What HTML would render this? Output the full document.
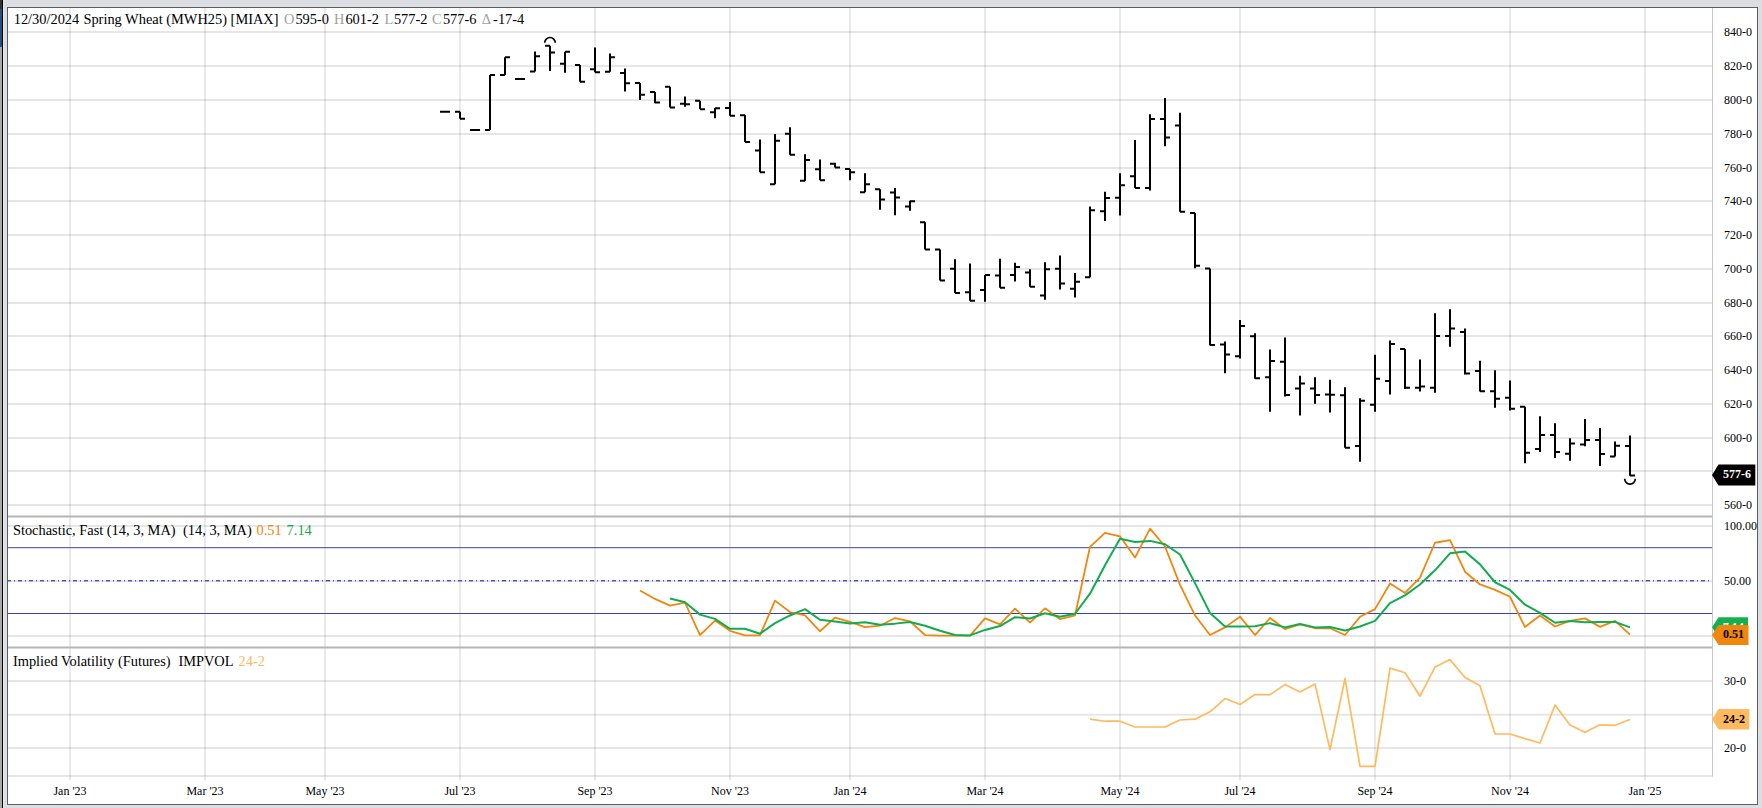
<!DOCTYPE html>
<html><head><meta charset="utf-8"><title>Spring Wheat (MWH25) chart</title>
<style>
html,body{margin:0;padding:0}
body{width:1762px;height:808px;overflow:hidden;background:#dbdfe3;position:relative;font-family:"Liberation Serif",serif}
.s{position:absolute;left:0;width:2px}
</style></head><body>
<div class="s" style="top:0;height:8.5px;background:#333"></div>
<div class="s" style="top:8.5px;height:38px;background:#24507a"></div>
<div class="s" style="top:46.5px;height:762px;background:#a9a9a9"></div>
<div style="position:absolute;left:2px;top:0;width:1.3px;height:808px;background:#000"></div>
<div style="position:absolute;left:3.3px;top:0;width:1.2px;height:808px;background:#e6e9ec"></div>
<svg width="1762" height="808" viewBox="0 0 1762 808" style="position:absolute;left:0;top:0;font-family:'Liberation Serif',serif">
<rect x="7.5" y="7.5" width="1750" height="797" fill="#fff" stroke="#5e5e5e" stroke-width="1"/>
<path d="M8,32.00H1712.5 M8,66.00H1712.5 M8,100.00H1712.5 M8,134.00H1712.5 M8,168.00H1712.5 M8,201.00H1712.5 M8,235.00H1712.5 M8,269.00H1712.5 M8,303.00H1712.5 M8,336.00H1712.5 M8,370.00H1712.5 M8,404.00H1712.5 M8,438.00H1712.5 M8,471.00H1712.5 M8,505.00H1712.5 M8,525.9H1712.5 M8,581.0H1712.5 M8,636.0H1712.5 M8,681.0H1712.5 M8,714.8H1712.5 M8,748.0H1712.5 M8,776.0H1712.5" stroke="rgba(0,0,8,0.098)" stroke-width="2" fill="none"/>
<path d="M70,8V780.5 M205,8V780.5 M325,8V780.5 M460,8V780.5 M595,8V780.5 M730,8V780.5 M850,8V780.5 M985,8V780.5 M1120,8V780.5 M1240,8V780.5 M1375,8V780.5 M1510,8V780.5 M1645,8V780.5" stroke="rgba(0,0,10,0.088)" stroke-width="2" fill="none"/>
<path d="M1712.5,8V776.5" stroke="#c8c8c8" stroke-width="1" fill="none"/>
<path d="M8,516.45H1712.0 M8,647.4H1712.0" stroke="#b4b4b4" stroke-width="2" fill="none"/>
<path d="M8,547.7H1712.0 M8,613.5H1712.0" stroke="#3a44a6" stroke-width="1" fill="none"/>
<path d="M7,580.7H1712.0" stroke="#4f59b2" stroke-width="1.4" stroke-dasharray="4 3 1 3" fill="none"/>
<path d="M440,111.84H445 M445,111.84H450 M460,111.84V118.65 M455,111.84H460 M460,118.65H465 M470,130.06H475 M475,130.06H480 M490,74.89V130.06 M485,130.06H490 M490,74.89H495 M505,57.35V74.89 M500,74.89H505 M505,57.35H510 M515,78.98H520 M520,78.98H525 M535,51.39V71.48 M530,71.48H535 M535,56.16H540 M550,45.77V70.97 M545,45.77H550 M550,52.58H555 M565,51.73V72.68 M560,63.82H565 M565,51.73H570 M580,65.01V81.70 M575,65.01H580 M580,81.7H585 M595,47.48V72.16 M590,69.27H595 M595,72.16H600 M610,53.61V71.82 M605,71.82H610 M610,57.35H615 M625,68.42V91.41 M620,73.02H625 M625,83.23H630 M640,82.89V99.92 M635,82.89H640 M640,94.81H645 M655,91.92V103.32 M650,91.92H655 M655,102.47H660 M670,86.81V107.58 M665,86.81H670 M670,107.58H675 M685,96.51V106.73 M680,103.84H685 M685,104.18H690 M700,100.77V109.28 M695,100.77H700 M700,109.28H705 M715,107.99V118.20 M710,112.24H715 M715,108.33H720 M730,102.03V115.65 M725,107.99H730 M730,115.65H735 M745,115.31V142.04 M740,115.31H745 M745,142.04H750 M760,139.49V172.18 M755,150.55H760 M760,172.18H765 M775,134.04V184.27 M770,184.27H775 M775,140.85H780 M790,127.23V154.81 M785,133.7H790 M790,154.81H795 M805,154.30V180.86 M800,180.86H805 M805,159.92H810 M820,159.58V180.35 M815,169.28H820 M820,180.35H825 M835,162.81V167.58 M830,163.84H835 M835,167.58H840 M850,168.94V180.35 M845,168.94H850 M850,172.35H855 M865,173.20V192.27 M860,192.27H865 M865,184.27H870 M880,189.21V209.64 M875,189.21H880 M880,199.59H885 M895,188.01V215.26 M890,192.61H895 M895,197.38H900 M910,200.78V210.66 M905,206.57H910 M910,201.29H915 M925,222.34V249.41 M920,222.34H925 M925,249.41H930 M940,249.41V280.57 M935,249.41H940 M940,280.57H945 M955,259.28V293.00 M950,268.65H955 M955,293.0H960 M970,263.54V300.66 M965,292.15H970 M970,300.66H975 M985,275.12V301.85 M980,289.93H985 M985,275.12H990 M1000,258.77V287.72 M995,275.46H1000 M1000,287.72H1005 M1015,262.69V281.42 M1010,275.12H1015 M1015,267.12H1020 M1030,269.16V286.87 M1025,272.39H1030 M1030,286.87H1035 M1045,262.35V299.81 M1040,295.38H1045 M1045,269.16H1050 M1060,255.54V289.42 M1055,268.65H1060 M1060,283.46H1065 M1075,272.91V297.59 M1070,288.74H1075 M1075,281.76H1080 M1090,206.50V277.16 M1085,277.16H1090 M1090,210.25H1095 M1105,191.69V220.97 M1100,211.27H1105 M1105,197.99H1110 M1120,173.20V215.52 M1115,197.65H1120 M1120,185.22H1125 M1135,140.00V188.01 M1130,176.27H1135 M1135,188.01H1140 M1150,114.29V190.57 M1145,188.01H1150 M1150,119.05H1155 M1165,98.11V146.30 M1160,119.05H1165 M1165,137.44H1170 M1180,112.75V211.85 M1175,125.52H1180 M1180,211.85H1185 M1195,212.88V268.22 M1190,212.88H1195 M1195,265.66H1200 M1210,268.56V345.46 M1205,268.56H1210 M1210,345.12H1215 M1225,341.38V373.22 M1220,344.61H1225 M1225,354.49H1230 M1240,320.09V358.40 M1235,356.19H1240 M1240,325.88H1245 M1255,333.20V378.84 M1250,336.27H1255 M1255,378.32H1260 M1270,349.38V411.87 M1265,377.13H1270 M1270,360.96H1275 M1285,337.46V396.54 M1280,361.64H1285 M1285,395.01H1290 M1300,375.77V415.44 M1295,388.54H1300 M1300,383.43H1305 M1315,377.13V403.87 M1310,388.54H1315 M1315,395.01H1320 M1330,379.69V412.38 M1325,394.5H1330 M1330,394.84H1335 M1345,387.35V447.69 M1340,395.35H1345 M1345,447.69H1350 M1360,398.31V461.65 M1355,445.99H1360 M1360,400.86H1365 M1375,354.83V411.87 M1370,404.72H1375 M1375,378.84H1380 M1390,340.52V394.50 M1385,380.88H1390 M1390,343.93H1395 M1405,349.04V388.88 M1400,349.04H1405 M1405,387.69H1410 M1420,359.59V391.61 M1415,387.69H1420 M1420,386.5H1425 M1435,313.28V392.80 M1430,387.69H1435 M1435,336.1H1440 M1450,309.36V346.82 M1445,336.1H1450 M1450,328.61H1455 M1465,328.44V374.41 M1460,332.01H1465 M1465,373.56H1470 M1480,360.85V391.50 M1475,371.07H1480 M1480,391.16H1485 M1495,370.22V407.68 M1490,391.16H1495 M1495,398.65H1500 M1510,380.43V410.57 M1505,397.8H1510 M1510,408.87H1515 M1525,406.82V463.35 M1520,406.82H1525 M1525,452.8H1530 M1540,416.19V451.95 M1535,448.88H1540 M1540,434.92H1545 M1555,423.34V457.91 M1550,434.92H1555 M1555,451.95H1560 M1570,438.32V460.80 M1565,453.65H1570 M1570,443.43H1575 M1585,419.08V446.33 M1580,444.62H1585 M1585,440.03H1590 M1600,428.11V465.91 M1595,440.03H1600 M1600,453.99H1605 M1615,441.39V456.54 M1610,456.54H1615 M1615,445.65H1620 M1630,435.43V475.78 M1625,445.99H1630 M1630,475.44H1635" stroke="#000" stroke-width="2" fill="none"/>
<path d="M544.7,42.77A5.3,5.3 0 0 1 555.3,42.77" stroke="#000" stroke-width="1.7" fill="none"/>
<path d="M1624.7,478.78A5.3,5.3 0 0 0 1635.3,478.78" stroke="#000" stroke-width="1.7" fill="none"/>
<polyline points="640,590.43 655,598.94 670,605.58 685,602.69 700,635.04 715,620.57 730,630.78 745,635.38 760,635.38 775,600.65 790,612.05 805,615.46 820,631.29 835,617.67 850,621.93 865,627.04 880,625.68 895,618.01 910,621.42 925,635.04 940,635.55 955,635.55 970,635.55 985,618.35 1000,624.31 1015,608.65 1030,622.61 1045,608.31 1060,619.21 1075,615.46 1090,546.84 1105,532.88 1120,536.28 1135,557.57 1150,528.62 1165,546.5 1180,584.81 1195,615.46 1210,635.04 1225,627.38 1240,616.65 1255,635.04 1270,618.01 1285,629.08 1300,624.48 1315,628.23 1330,628.23 1345,635.04 1360,616.82 1375,609.16 1390,583.45 1405,592.98 1420,577.66 1435,542.75 1450,540.2 1465,571.7 1480,584.47 1495,589.92 1510,596.73 1525,627.04 1540,615.46 1555,626.53 1570,620.91 1585,618.35 1600,626.87 1615,620.91 1630,634.7" stroke="#f0870c" stroke-width="1.8" fill="none" stroke-linejoin="round"/>
<polyline points="670,598.43 685,602.18 700,614.61 715,618.87 730,628.74 745,628.74 760,633.68 775,623.12 790,615.46 805,609.16 820,619.72 835,621.42 850,623.46 865,622.27 880,624.82 895,623.63 910,621.93 925,625.68 940,630.78 955,635.04 970,635.38 985,629.93 1000,626.02 1015,617.16 1030,618.52 1045,613.25 1060,616.65 1075,613.76 1090,593.67 1105,565.23 1120,538.84 1135,541.9 1150,540.88 1165,544.29 1180,554.5 1195,583.11 1210,612.91 1225,626.53 1240,626.53 1255,626.19 1270,623.12 1285,627.38 1300,623.97 1315,627.38 1330,627.04 1345,630.44 1360,626.53 1375,620.91 1390,603.03 1405,595.37 1420,584.47 1435,570.34 1450,553.31 1465,551.61 1480,564.38 1495,582.26 1510,589.92 1525,604.73 1540,612.91 1555,622.78 1570,621.08 1585,622.27 1600,621.93 1615,621.93 1630,627.38" stroke="#12ac50" stroke-width="2" fill="none" stroke-linejoin="round"/>
<polyline points="1090,719.17 1105,721.22 1120,721.22 1135,727.01 1150,727.01 1165,727.01 1180,720.02 1195,719.17 1210,711.85 1225,698.57 1240,704.53 1255,694.48 1270,694.65 1285,684.61 1300,691.93 1315,683.93 1330,749.65 1345,678.65 1360,766.34 1375,766.34 1390,668.09 1405,672.69 1420,696.19 1435,667.07 1450,659.58 1465,677.46 1480,685.8 1495,733.99 1510,733.99 1525,738.58 1540,743.01 1555,705.04 1570,724.96 1585,732.28 1600,724.79 1615,725.3 1630,719.51" stroke="#ffb95f" stroke-width="1.7" fill="none" stroke-linejoin="round"/>
<text x="1724" y="36.0" font-size="12" fill="#000">840-0</text>
<text x="1724" y="70.0" font-size="12" fill="#000">820-0</text>
<text x="1724" y="104.0" font-size="12" fill="#000">800-0</text>
<text x="1724" y="138.0" font-size="12" fill="#000">780-0</text>
<text x="1724" y="172.0" font-size="12" fill="#000">760-0</text>
<text x="1724" y="205.0" font-size="12" fill="#000">740-0</text>
<text x="1724" y="239.0" font-size="12" fill="#000">720-0</text>
<text x="1724" y="273.0" font-size="12" fill="#000">700-0</text>
<text x="1724" y="307.0" font-size="12" fill="#000">680-0</text>
<text x="1724" y="340.0" font-size="12" fill="#000">660-0</text>
<text x="1724" y="374.0" font-size="12" fill="#000">640-0</text>
<text x="1724" y="408.0" font-size="12" fill="#000">620-0</text>
<text x="1724" y="442.0" font-size="12" fill="#000">600-0</text>
<text x="1724" y="475.0" font-size="12" fill="#000">580-0</text>
<text x="1724" y="509.0" font-size="12" fill="#000">560-0</text>
<text x="1724" y="529.8" font-size="12" fill="#000">100.00</text>
<text x="1724" y="584.5" font-size="12" fill="#000">50.00</text>
<text x="1724" y="684.6" font-size="12" fill="#000">30-0</text>
<text x="1724" y="752.0" font-size="12" fill="#000">20-0</text>
<text x="70" y="795" font-size="12" fill="#000" text-anchor="middle">Jan '23</text>
<text x="205" y="795" font-size="12" fill="#000" text-anchor="middle">Mar '23</text>
<text x="325" y="795" font-size="12" fill="#000" text-anchor="middle">May '23</text>
<text x="460" y="795" font-size="12" fill="#000" text-anchor="middle">Jul '23</text>
<text x="595" y="795" font-size="12" fill="#000" text-anchor="middle">Sep '23</text>
<text x="730" y="795" font-size="12" fill="#000" text-anchor="middle">Nov '23</text>
<text x="850" y="795" font-size="12" fill="#000" text-anchor="middle">Jan '24</text>
<text x="985" y="795" font-size="12" fill="#000" text-anchor="middle">Mar '24</text>
<text x="1120" y="795" font-size="12" fill="#000" text-anchor="middle">May '24</text>
<text x="1240" y="795" font-size="12" fill="#000" text-anchor="middle">Jul '24</text>
<text x="1375" y="795" font-size="12" fill="#000" text-anchor="middle">Sep '24</text>
<text x="1510" y="795" font-size="12" fill="#000" text-anchor="middle">Nov '24</text>
<text x="1645" y="795" font-size="12" fill="#000" text-anchor="middle">Jan '25</text>
<path d="M1712,475L1718.5,464.4H1755.3V485.6H1718.5Z" fill="#000"/>
<text x="1736.9" y="478.3" font-size="12" font-weight="bold" fill="#fff" text-anchor="middle">577-6</text>
<path d="M1712,627.3L1718.5,617.3H1748.0V637.3H1718.5Z" fill="#14b050"/>
<text x="1733.2" y="630.6" font-size="12" font-weight="bold" fill="#fff" text-anchor="middle">7.14</text>
<path d="M1712,635L1718.5,625H1748.5V645H1718.5Z" fill="#f0870c"/>
<text x="1733.5" y="638.3" font-size="12" font-weight="bold" fill="#000" text-anchor="middle">0.51</text>
<path d="M1712,719.2L1718.5,709.0H1749.3V729.4000000000001H1718.5Z" fill="#ffb95f"/>
<text x="1733.9" y="722.5" font-size="12" font-weight="bold" fill="#000" text-anchor="middle">24-2</text>
<text x="13.7" y="24.3" font-size="14.4" fill="#000">12/30/2024</text>
<text x="83.4" y="24.3" font-size="14.4" fill="#000">Spring Wheat (MWH25) [MIAX]</text>
<text x="284.0" y="24.3" font-size="14.4" fill="#a0a0a0">O</text>
<text x="295.4" y="24.3" font-size="14.4" fill="#000">595-0</text>
<text x="333.90000000000003" y="24.3" font-size="14.4" fill="#a0a0a0">H</text>
<text x="345.4" y="24.3" font-size="14.4" fill="#000">601-2</text>
<text x="384.6" y="24.3" font-size="14.4" fill="#a0a0a0">L</text>
<text x="393.9" y="24.3" font-size="14.4" fill="#000">577-2</text>
<text x="432.1" y="24.3" font-size="14.4" fill="#a0a0a0">C</text>
<text x="442.9" y="24.3" font-size="14.4" fill="#000">577-6</text>
<text x="481.8" y="24.3" font-size="14.4" fill="#a0a0a0">Δ</text>
<text x="493.1" y="24.3" font-size="14.4" fill="#000">-17-4</text>
<text x="12.9" y="535.0" font-size="14.4" fill="#000">Stochastic, Fast (14, 3, MA)</text>
<text x="183.0" y="535.0" font-size="14.4" fill="#000">(14, 3, MA)</text>
<text x="256.5" y="535.0" font-size="14.4" fill="#f0870c">0.51</text>
<text x="286.6" y="535.0" font-size="14.4" fill="#14a850">7.14</text>
<text x="12.9" y="665.8" font-size="14.4" fill="#000">Implied Volatility (Futures)</text>
<text x="178.4" y="665.8" font-size="14.4" fill="#000">IMPVOL</text>
<text x="238.6" y="665.8" font-size="14.4" fill="#ffb95f">24-2</text>
</svg>
</body></html>
